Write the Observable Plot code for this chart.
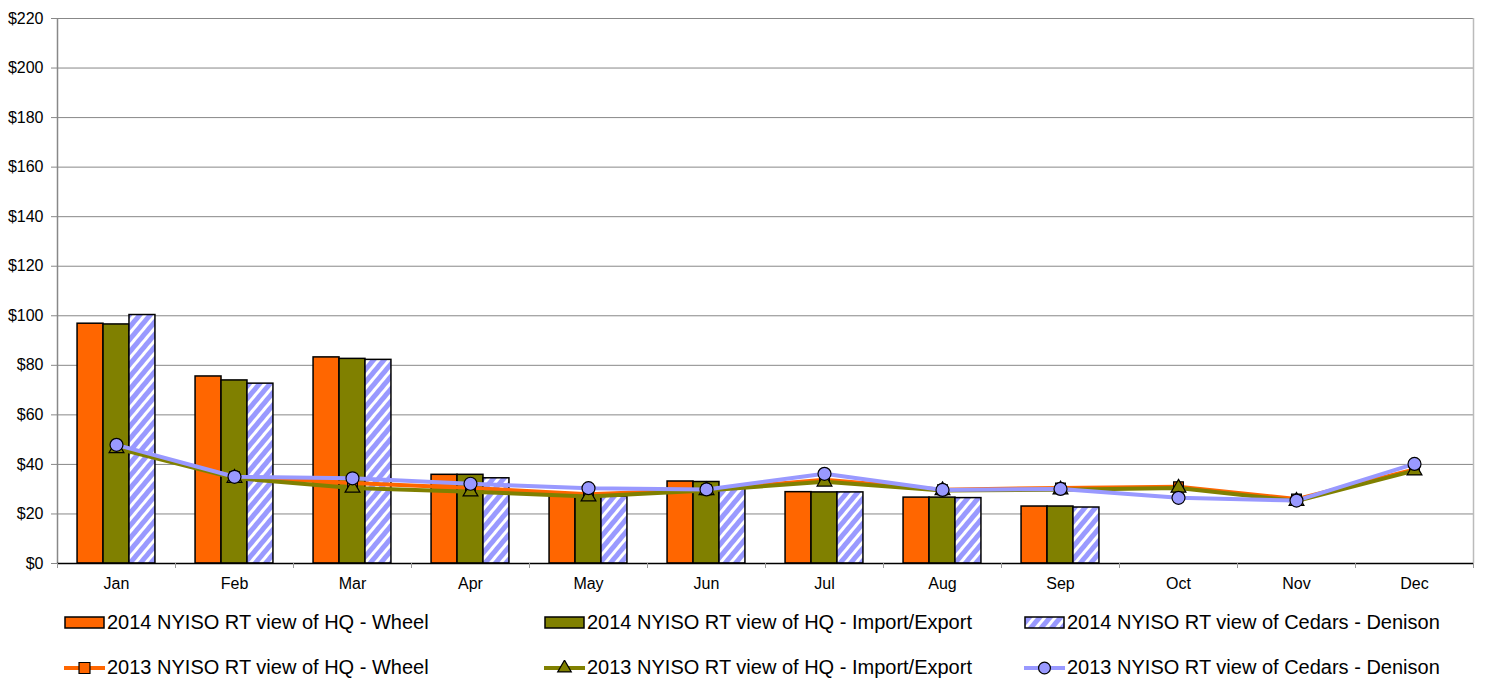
<!DOCTYPE html>
<html>
<head>
<meta charset="utf-8">
<script src="https://cdn.jsdelivr.net/npm/d3@7"></script>
<script src="https://cdn.jsdelivr.net/npm/@observablehq/plot@0.6"></script>
<style>
  body { margin: 0; background: #fff; font-family: "Liberation Sans", Arial, sans-serif; }
  #chart svg text { font-size: 16px; fill: #000; }
  #legend { display: grid; grid-template-columns: 480px 480px 460px; padding-left: 64px; grid-auto-rows: 45px; }
  .item { display: flex; align-items: center; font-size: 20px; color: #000; white-space: nowrap; }
  .item svg { margin-right: 1px; flex: none; }
</style>
</head>
<body>
<div id="chart"></div>
<div id="legend"></div>
<script>
const months = ["Jan","Feb","Mar","Apr","May","Jun","Jul","Aug","Sep","Oct","Nov","Dec"];
const yTicks = [0,20,40,60,80,100,120,140,160,180,200,220];

const seriesNames = [
  "2014 NYISO RT view of HQ - Wheel",
  "2014 NYISO RT view of HQ - Import/Export",
  "2014 NYISO RT view of Cedars - Denison",
  "2013 NYISO RT view of HQ - Wheel",
  "2013 NYISO RT view of HQ - Import/Export",
  "2013 NYISO RT view of Cedars - Denison"
];

const wheel2014  = [96.8, 75.5, 83.2, 35.8, 27.5, 33.1, 28.8, 26.6, 23.0];
const import2014 = [96.5, 73.9, 82.6, 35.8, 27.0, 32.9, 28.7, 26.6, 23.0];
const cedars2014 = [100.3, 72.6, 82.2, 34.4, 27.0, 30.5, 28.7, 26.4, 22.6];

const wheel2013  = [47.0, 35.0, 32.5, 30.5, 28.0, 29.8, 33.8, 29.8, 30.5, 31.0, 26.0, 38.0];
const import2013 = [46.5, 34.5, 30.5, 29.0, 27.0, 29.5, 33.0, 29.5, 29.8, 30.5, 25.2, 37.5];
const cedars2013 = [47.9, 35.0, 34.4, 32.2, 30.4, 29.9, 36.2, 29.7, 30.1, 26.5, 25.4, 40.2];

const colors = ["#ff6600", "#808000", "url(#hatch)", "#ff6600", "#808000", "#9999ff"];

const barSeries = [wheel2014, import2014, cedars2014];
const bars = [];
barSeries.forEach((arr, s) => arr.forEach((v, i) => {
  const x1 = i - 0.33 + s * 0.22;
  bars.push({s, i, x1, x2: x1 + 0.22, v});
}));
const lineSeries = [wheel2013, import2013, cedars2013];
const lines = lineSeries.map(arr => arr.map((v, i) => ({i, v})));

const plot = Plot.plot({
  width: 1485,
  height: 600,
  marginLeft: 57,
  marginRight: 12,
  marginTop: 18,
  marginBottom: 37,
  style: {fontFamily: "'Liberation Sans', Arial, sans-serif", fontSize: "16px", color: "#000", background: "#fff"},
  x: {type: "linear", domain: [-0.5, 11.5]},
  y: {domain: [0, 220]},
  marks: [
    Plot.ruleY(yTicks.filter(d => d > 0), {stroke: "#888", strokeWidth: 1}),
    Plot.ruleX([11.5], {y1: 0, y2: 220, stroke: "#bbb", strokeWidth: 1.5}),
    Plot.rectY(bars.filter(d => d.s === 0), {x1: "x1", x2: "x2", y: "v", fill: colors[0], stroke: "#000", strokeWidth: 1.5}),
    Plot.rectY(bars.filter(d => d.s === 1), {x1: "x1", x2: "x2", y: "v", fill: colors[1], stroke: "#000", strokeWidth: 1.5}),
    Plot.rectY(bars.filter(d => d.s === 2), {x1: "x1", x2: "x2", y: "v", fill: colors[2], stroke: "#000", strokeWidth: 1.5}),
    Plot.line(lines[0], {x: "i", y: "v", stroke: colors[3], strokeWidth: 4}),
    Plot.line(lines[1], {x: "i", y: "v", stroke: colors[4], strokeWidth: 4}),
    Plot.line(lines[2], {x: "i", y: "v", stroke: colors[5], strokeWidth: 4}),
    Plot.dot(lines[0], {x: "i", y: "v", symbol: "square", r: 5.5, fill: colors[3], stroke: "#000", strokeWidth: 1.2}),
    Plot.dot(lines[1], {x: "i", y: "v", symbol: "triangle", r: 5.5, fill: colors[4], stroke: "#000", strokeWidth: 1.2}),
    Plot.dot(lines[2], {x: "i", y: "v", symbol: "circle", r: 6.5, fill: colors[5], stroke: "#000", strokeWidth: 1.2}),
    Plot.ruleX([-0.5], {y1: 0, y2: 220, stroke: "#888", strokeWidth: 1.5}),
    Plot.ruleY([0], {stroke: "#000", strokeWidth: 1.5}),
    Plot.axisY({ticks: yTicks, tickFormat: d => "$" + d, tickSize: 6, tickPadding: 8, stroke: "#888", fontSize: 16, label: null}),
    Plot.axisX({ticks: d3.range(12), tickFormat: i => months[i], tickSize: 0, tickPadding: 14, fontSize: 16, label: null}),
    Plot.axisX({ticks: d3.range(13).map(i => i - 0.5), tickFormat: () => "", tickSize: 5, stroke: "#999", label: null})
  ]
});

const defs = d3.select(plot).insert("defs", ":first-child");
const pat = defs.append("pattern").attr("id", "hatch").attr("patternUnits", "userSpaceOnUse")
  .attr("width", 8).attr("height", 8).attr("patternTransform", "rotate(40)");
pat.append("rect").attr("width", 8).attr("height", 8).attr("fill", "#9999ff");
pat.append("rect").attr("x", 0).attr("width", 3).attr("height", 8).attr("fill", "#fff");

document.getElementById("chart").appendChild(plot);

// legend
const legend = d3.select("#legend");
seriesNames.forEach((name, k) => {
  const item = legend.append("div").attr("class", "item");
  const sw = item.append("svg").attr("width", 42).attr("height", 16);
  if (k < 3) {
    const sdefs = sw.append("defs");
    if (k === 2) {
      const p = sdefs.append("pattern").attr("id", "hatchL").attr("patternUnits", "userSpaceOnUse")
        .attr("width", 8).attr("height", 8).attr("patternTransform", "rotate(40)");
      p.append("rect").attr("width", 8).attr("height", 8).attr("fill", "#9999ff");
      p.append("rect").attr("width", 3).attr("height", 8).attr("fill", "#fff");
    }
    sw.append("rect").attr("x", 1).attr("y", 2).attr("width", 39).attr("height", 11)
      .attr("fill", k === 2 ? "url(#hatchL)" : colors[k]).attr("stroke", "#000").attr("stroke-width", 1.5);
  } else {
    sw.append("line").attr("x1", 0).attr("x2", 41).attr("y1", 8).attr("y2", 8)
      .attr("stroke", colors[k]).attr("stroke-width", 4);
    const sym = k === 3 ? d3.symbolSquare : k === 4 ? d3.symbolTriangle : d3.symbolCircle;
    const size = k === 3 ? 120 : k === 5 ? 110 : 80;
    sw.append("path").attr("transform", "translate(20.5,8)")
      .attr("d", d3.symbol(sym, size)())
      .attr("fill", colors[k]).attr("stroke", "#000").attr("stroke-width", 1.2);
  }
  item.append("span").text(name);
});
</script>
</body>
</html>
